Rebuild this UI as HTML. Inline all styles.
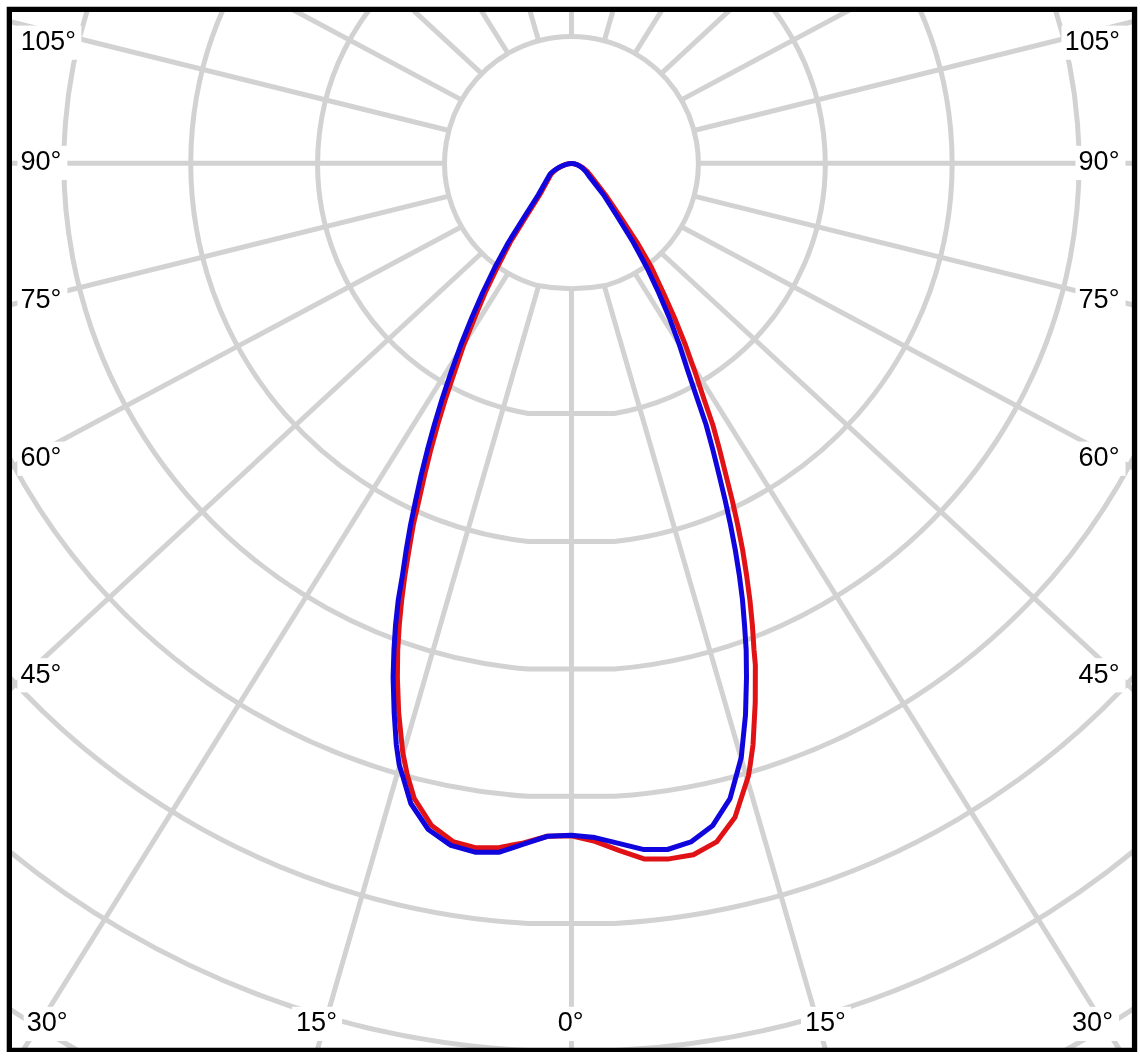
<!DOCTYPE html>
<html lang="en"><head><meta charset="utf-8"><title>Polar diagram</title>
<style>
html,body{margin:0;padding:0;background:#fff;}
body{width:1140px;height:1060px;overflow:hidden;}
svg{display:block;}
text{font-family:"Liberation Sans",Arial,sans-serif;font-size:27.8px;fill:#000;}
</style></head><body>
<svg width="1140" height="1060" viewBox="0 0 1140 1060">
<rect x="0" y="0" width="1140" height="1060" fill="#ffffff"/>
<defs><clipPath id="inner"><rect x="9" y="9" width="1126" height="1041"/></clipPath></defs>
<g clip-path="url(#inner)">
<g fill="none" stroke="#D2D2D2" stroke-width="5.0" stroke-linejoin="round">
<path d="M605.45,285.56 A126.90,126.90 0 1 0 537.45,285.56 Q571.45,292.04 605.45,285.56 Z"/>
<path d="M614.45,413.43 A253.80,253.80 0 1 0 528.45,413.43 Z"/>
<path d="M614.45,541.56 A380.70,380.70 0 1 0 528.45,541.56 Z"/>
<path d="M614.45,669.08 A507.60,507.60 0 1 0 528.45,669.08 Z"/>
<path d="M614.45,796.34 A634.50,634.50 0 1 0 528.45,796.34 Z"/>
<path d="M614.45,923.48 A761.40,761.40 0 1 0 528.45,923.48 Z"/>
<path d="M614.45,1050.56 A888.30,888.30 0 1 0 528.45,1050.56 Z"/>
<path d="M614.45,1177.59 A1015.20,1015.20 0 1 0 528.45,1177.59 Z"/>
<line x1="571.45" y1="290.20" x2="571.45" y2="1790.20"/>
<line x1="604.29" y1="285.88" x2="1023.97" y2="1734.76"/>
<line x1="634.90" y1="273.20" x2="1445.65" y2="1572.24"/>
<line x1="661.18" y1="253.03" x2="1807.76" y2="1313.69"/>
<line x1="681.35" y1="226.75" x2="2085.61" y2="976.75"/>
<line x1="694.03" y1="196.14" x2="2260.27" y2="584.37"/>
<line x1="698.35" y1="163.30" x2="2319.85" y2="163.30"/>
<line x1="694.03" y1="130.46" x2="2260.27" y2="-257.77"/>
<line x1="681.35" y1="99.85" x2="2085.61" y2="-650.15"/>
<line x1="661.18" y1="73.57" x2="1807.76" y2="-987.09"/>
<line x1="634.90" y1="53.40" x2="1445.65" y2="-1245.64"/>
<line x1="604.29" y1="40.72" x2="1023.97" y2="-1408.16"/>
<line x1="571.45" y1="36.40" x2="571.45" y2="-1463.60"/>
<line x1="538.61" y1="40.72" x2="118.93" y2="-1408.16"/>
<line x1="508.00" y1="53.40" x2="-302.75" y2="-1245.64"/>
<line x1="481.72" y1="73.57" x2="-664.86" y2="-987.09"/>
<line x1="461.55" y1="99.85" x2="-942.71" y2="-650.15"/>
<line x1="448.87" y1="130.46" x2="-1117.37" y2="-257.77"/>
<line x1="444.55" y1="163.30" x2="-1176.95" y2="163.30"/>
<line x1="448.87" y1="196.14" x2="-1117.37" y2="584.37"/>
<line x1="461.55" y1="226.75" x2="-942.71" y2="976.75"/>
<line x1="481.72" y1="253.03" x2="-664.86" y2="1313.69"/>
<line x1="508.00" y1="273.20" x2="-302.75" y2="1572.24"/>
<line x1="538.61" y1="285.88" x2="118.93" y2="1734.76"/>
</g>
<g fill="#ffffff">
<rect x="17.4" y="25.6" width="64" height="34.2"/>
<rect x="17.4" y="145.8" width="50" height="34.2"/>
<rect x="17.4" y="282.9" width="50" height="34.2"/>
<rect x="17.4" y="441.6" width="50" height="34.2"/>
<rect x="17.4" y="658.2" width="50" height="34.2"/>
<rect x="1061.5" y="25.6" width="64" height="34.2"/>
<rect x="1075.5" y="145.8" width="50" height="34.2"/>
<rect x="1075.5" y="282.9" width="50" height="34.2"/>
<rect x="1075.5" y="441.6" width="50" height="34.2"/>
<rect x="1075.5" y="658.2" width="50" height="34.2"/>
<rect x="23.7" y="1006.8" width="50" height="34.2"/>
<rect x="292.1" y="1006.8" width="50" height="34.2"/>
<rect x="554" y="1006.8" width="36" height="34.2"/>
<rect x="801" y="1006.8" width="50" height="34.2"/>
<rect x="1069" y="1006.8" width="50" height="34.2"/>
</g>
<g style="opacity:0.999">
<text transform="translate(20.7,50.2) scale(0.96,1)">105°</text>
<text transform="translate(20.4,170.4) scale(0.975,1)">90°</text>
<text transform="translate(20.4,307.5) scale(0.975,1)">75°</text>
<text transform="translate(20.4,466.2) scale(0.975,1)">60°</text>
<text transform="translate(20.4,682.8) scale(0.975,1)">45°</text>
<text transform="translate(1064.8,50.2) scale(0.96,1)">105°</text>
<text transform="translate(1078.5,170.4) scale(0.975,1)">90°</text>
<text transform="translate(1078.5,307.5) scale(0.975,1)">75°</text>
<text transform="translate(1078.5,466.2) scale(0.975,1)">60°</text>
<text transform="translate(1078.5,682.8) scale(0.975,1)">45°</text>
<text transform="translate(26.7,1031.4) scale(0.975,1)">30°</text>
<text transform="translate(296.0,1031.4) scale(0.975,1)">15°</text>
<text transform="translate(557.8,1031.4) scale(0.975,1)">0°</text>
<text transform="translate(804.9,1031.4) scale(0.975,1)">15°</text>
<text transform="translate(1072.0,1031.4) scale(0.975,1)">30°</text>
</g>
<path fill="none" stroke="#E01216" stroke-width="5.0" stroke-linejoin="round" stroke-linecap="round" d="M539.60,195.00 L525.50,217.50 L510.05,242.50 L497.22,267.50 L485.22,292.50 L474.74,317.50 L463.71,345.00 L454.37,372.50 L445.11,400.00 L437.57,425.00 L430.72,450.00 L424.61,475.00 L419.02,500.00 L413.26,525.00 L408.98,550.00 L404.95,575.00 L401.70,600.00 L399.29,625.00 L397.70,650.00 L397.39,677.50 L398.66,712.50 L402.76,752.50 L407.30,775.00 L414.20,798.30 L431.60,825.60 L453.00,841.60 L476.20,847.80 L499.60,847.50 L523.50,843.00 L547.50,836.25 L571.25,835.70 L595.00,841.40 L619.60,850.60 L644.00,858.90 L669.00,858.90 L693.40,854.70 L716.60,841.90 L735.00,817.20 L748.40,776.00 L750.17,765.00 L753.01,745.00 L755.25,702.50 L755.36,665.00 L754.00,650.00 L752.38,625.00 L749.90,600.00 L746.55,575.00 L742.63,550.00 L737.72,525.00 L732.18,500.00 L725.91,475.00 L719.67,450.00 L712.87,425.00 L704.28,400.00 L695.19,372.50 L685.45,345.00 L674.36,317.50 L663.19,292.50 L651.52,267.50 L637.13,242.50 L620.82,217.50 L605.54,195.00 L590.60,175.60 C587.60,171.20 579.50,163.40 571.45,163.40 C563.50,163.40 553.40,170.70 551.00,174.30 Z"/>
<path fill="none" stroke="#1005DC" stroke-width="5.0" stroke-linejoin="round" stroke-linecap="round" d="M538.18,195.00 L523.90,217.50 L508.36,242.50 L494.82,267.50 L482.76,292.50 L471.88,317.50 L460.80,345.00 L450.95,372.50 L441.78,400.00 L434.27,425.00 L427.40,450.00 L421.18,475.00 L415.71,500.00 L410.53,525.00 L406.19,550.00 L402.49,575.00 L398.25,600.00 L395.54,625.00 L393.95,650.00 L393.10,677.50 L394.15,712.50 L396.34,745.00 L399.22,765.00 L402.70,776.00 L410.80,803.50 L428.30,829.50 L450.90,845.40 L475.00,852.20 L499.40,852.20 L523.50,844.10 L547.50,836.25 L571.25,835.30 L595.00,837.60 L619.60,843.60 L644.00,849.60 L667.50,849.50 L690.90,841.90 L712.50,825.80 L730.00,798.60 L736.20,776.00 L741.25,757.50 L745.50,715.00 L746.50,677.50 L746.18,650.00 L744.53,625.00 L742.50,600.00 L739.30,575.00 L735.29,550.00 L730.52,525.00 L725.09,500.00 L719.10,475.00 L712.91,450.00 L706.17,425.00 L697.67,400.00 L688.37,372.50 L679.43,345.00 L669.27,317.50 L658.59,292.50 L646.85,267.50 L633.36,242.50 L617.97,217.50 L603.69,195.00 L588.90,175.90 C586.70,171.70 579.50,163.40 571.45,163.40 C563.50,163.40 552.40,170.90 549.80,174.50 Z"/>
</g>
<path fill="#000000" fill-rule="evenodd" d="M6.7,6.8 H1137.2 V1052 H6.7 Z M12,11.9 V1047.8 H1131.9 V11.9 Z"/>
</svg></body></html>
